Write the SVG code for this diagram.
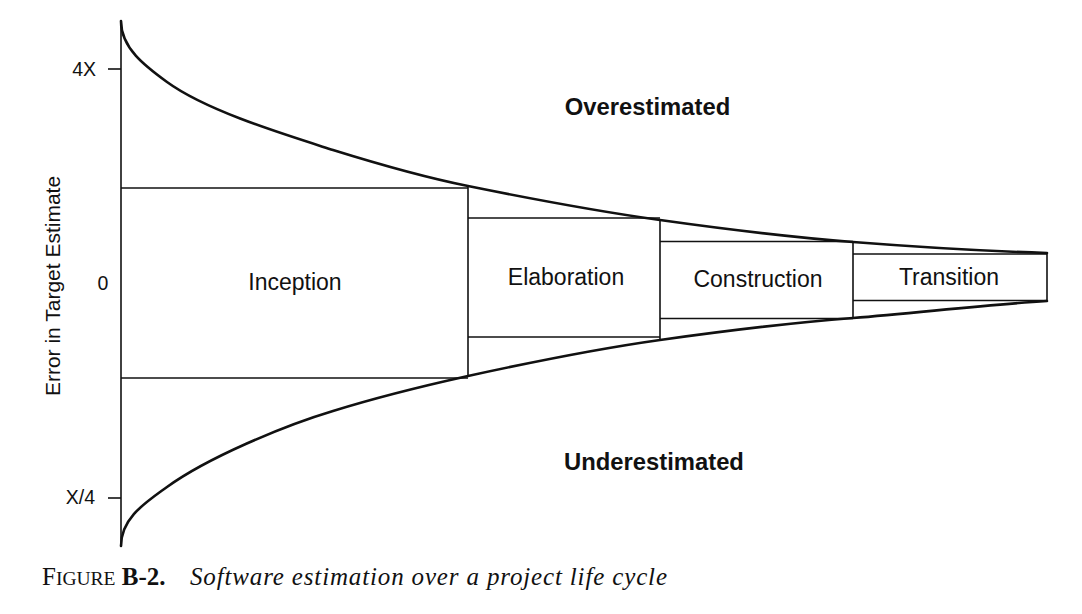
<svg xmlns="http://www.w3.org/2000/svg" width="1082" height="614" viewBox="0 0 1082 614">
<style>
.curve{fill:none;stroke:#111;stroke-width:2.6;stroke-linecap:round}
.line{fill:none;stroke:#111;stroke-width:1.6}
.lbl{font-family:"Liberation Sans",Arial,sans-serif;font-size:23px;fill:#111;text-anchor:middle}
.bold{font-family:"Liberation Sans",Arial,sans-serif;font-size:23.8px;font-weight:bold;fill:#111;text-anchor:middle}
.tick{font-family:"Liberation Sans",Arial,sans-serif;font-size:19.5px;fill:#111}
.cap{font-family:"Liberation Serif","Times New Roman",serif;fill:#111}
</style>
<rect width="1082" height="614" fill="#fff"/>
<g id="axis">
<line class="line" x1="121" y1="21" x2="121" y2="546"/>
<line class="line" x1="108" y1="69" x2="121" y2="69"/>
<line class="line" x1="108" y1="498" x2="121" y2="498"/>
<text class="tick" x="96" y="76" text-anchor="end">4X</text>
<text class="tick" x="103" y="290" text-anchor="middle">0</text>
<text class="tick" x="95" y="504" text-anchor="end">X/4</text>
<text class="tick" text-anchor="middle" transform="translate(59.5,286) rotate(-90)" style="font-size:21px">Error in Target Estimate</text>
</g>
<g id="connectors">
<path class="curve" d="M121,21 C121,48 145,66 167,82 C207,111 283,134 333,150 C378,164 423,177 468,186 C532,199 596,211 660,220 C724,229 789,237 853,242 C917,247 982,251 1047,253"/>
<path class="curve" d="M121,546 C121,518 145,503 167,487 C207,458 283,426 333,411 C378,397 423,386 468,376 C532,362 596,349 660,340 C724,331 789,323 853,318 C917,313 982,305 1047,301"/>
</g>
<g id="inception">
<line class="line" x1="121" y1="188" x2="468" y2="188"/>
<line class="line" x1="121" y1="378" x2="468" y2="378"/>
<line class="line" x1="468" y1="186" x2="468" y2="376"/>
<text class="lbl" x="295" y="290">Inception</text>
</g>
<g id="elaboration">
<line class="line" x1="468" y1="218" x2="660" y2="218"/>
<line class="line" x1="468" y1="337" x2="660" y2="337"/>
<line class="line" x1="660" y1="220" x2="660" y2="340"/>
<text class="lbl" x="566" y="285">Elaboration</text>
</g>
<g id="construction">
<line class="line" x1="660" y1="241.5" x2="853" y2="241.5"/>
<line class="line" x1="660" y1="318.5" x2="853" y2="318.5"/>
<line class="line" x1="853" y1="242" x2="853" y2="318"/>
<text class="lbl" x="758" y="287">Construction</text>
</g>
<g id="transition">
<line class="line" x1="853" y1="254" x2="1047" y2="254"/>
<line class="line" x1="853" y1="300.5" x2="1047" y2="300.5"/>
<line class="line" x1="1047" y1="253" x2="1047" y2="301"/>
<text class="lbl" x="949" y="285">Transition</text>
</g>
<g id="overestimated">
<text class="bold" x="647.5" y="115">Overestimated</text>
</g>
<g id="underestimated">
<text class="bold" x="654" y="470">Underestimated</text>
</g>
<g id="caption">
<text class="cap" x="42" y="585"><tspan font-size="25">F</tspan><tspan font-size="19.5">IGURE</tspan><tspan font-size="25" font-weight="bold"> B-2.</tspan></text>
<text class="cap" x="190" y="585" font-size="25" font-style="italic" textLength="477" lengthAdjust="spacing">Software estimation over a project life cycle</text>
</g>
</svg>
